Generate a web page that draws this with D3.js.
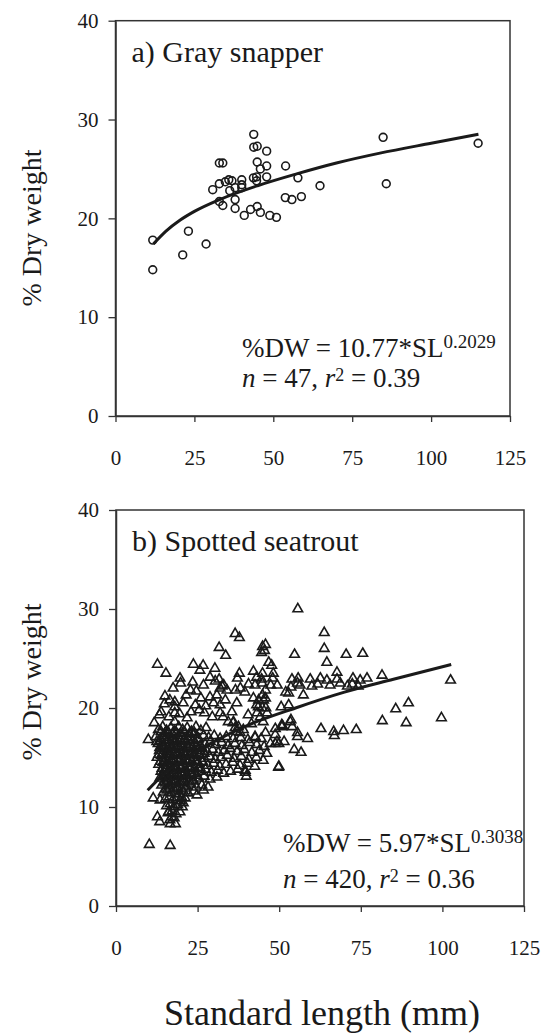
<!DOCTYPE html>
<html>
<head>
<meta charset="utf-8">
<script src="https://cdn.jsdelivr.net/npm/d3@7"></script>
<style>
  body { margin: 0; background: #fff; }
  svg { display: block; }
  svg text { font-family: "Liberation Serif", "DejaVu Serif", "Noto Serif", "Times New Roman", Times, serif; fill: #1a1a1a; }
</style>
</head>
<body>
<svg id="chart" width="541" height="1035"></svg>
<script>
var serif = "'Liberation Serif', 'DejaVu Serif', 'Noto Serif', 'Times New Roman', Times, serif";

// tick values shared by both panels
var xTicks = [0, 25, 50, 75, 100, 125];
var yTicks = [0, 10, 20, 30, 40];

// a) Gray snapper: [standard length (mm), % dry weight]
var snapperPoints = [
  [11.8, 17.8], [11.8, 14.8], [21.3, 16.3], [23.1, 18.7], [28.7, 17.4],
  [30.8, 22.9], [32.9, 23.5], [32.9, 25.6], [34.0, 25.6], [32.9, 21.7],
  [34.0, 21.3], [34.8, 23.7], [35.9, 23.9], [36.9, 23.8], [37.9, 23.1],
  [37.9, 21.9], [37.9, 21.0], [40.0, 23.9], [40.0, 23.4], [40.0, 23.1],
  [40.8, 20.3], [42.8, 20.9], [43.8, 28.5], [43.8, 27.2], [44.9, 27.3],
  [44.9, 25.7], [43.7, 24.1], [44.7, 24.2], [44.7, 23.8], [44.9, 21.2],
  [45.9, 25.0], [45.9, 20.6], [47.9, 26.8], [47.9, 25.3], [47.9, 24.2],
  [48.9, 20.3], [51.0, 20.1], [53.9, 25.3], [53.8, 22.1], [55.9, 21.9],
  [57.8, 24.1], [58.9, 22.2], [64.8, 23.3], [84.8, 28.2], [85.8, 23.5],
  [114.9, 27.6], [36.2, 22.8]
];
// fitted curve as drawn: %DW = 10.77*SL^0.2029
var snapperFitSL = [12, 16, 20.4, 25, 33, 45, 57.4, 70, 83.8, 100, 115];
var snapperFitDW = [17.4, 18.7, 19.8, 20.7, 21.9, 23.3, 24.5, 25.6, 26.6, 27.6, 28.5];

// b) Spotted seatrout: [standard length (mm), % dry weight]
var seatroutPoints = [
  // sparse upper scatter
  [12.7, 24.4], [15.3, 23.5], [23.7, 24.4], [25.7, 23.8], [26.7, 24.3], [30.3, 24.0],
  [31.6, 26.1], [33.6, 25.3], [36.5, 27.5], [37.8, 27.1], [37.8, 23.5], [42.1, 23.7],
  [44.9, 26.2], [45.5, 25.8], [44.6, 25.6], [45.8, 26.4], [46.8, 24.6], [47.7, 24.3],
  [44.9, 23.5], [48.2, 23.5], [55.7, 30.0], [54.7, 25.4], [63.8, 27.6], [63.8, 26.0],
  [64.6, 24.6], [70.5, 25.4], [75.6, 25.5], [67.7, 23.6], [81.5, 23.3], [102.5, 22.8],
  [19.6, 23.0], [28.8, 23.1], [31.6, 22.9], [37.2, 23.0], [43.1, 23.1], [44.6, 22.9],
  [48.0, 23.0], [53.9, 22.9], [55.8, 23.0], [59.5, 22.9], [62.6, 23.0], [64.6, 22.8],
  [67.7, 22.9], [72.6, 23.0], [74.8, 22.8], [76.9, 23.0],
  [32.5, 22.2], [36.6, 21.8], [38.1, 22.0], [40.6, 22.4], [42.6, 22.3], [44.8, 22.5],
  [45.8, 21.8], [47.4, 22.3], [49.4, 22.3], [52.0, 21.6], [53.6, 22.1], [55.6, 22.5],
  [56.4, 22.3], [57.4, 21.3], [52.9, 21.5], [60.0, 22.2], [61.8, 22.4], [65.6, 22.3],
  [68.7, 22.5], [70.9, 22.2], [72.4, 22.4], [74.2, 22.2],
  [42.1, 21.0], [43.7, 20.8], [44.9, 21.3], [45.8, 21.0], [45.2, 20.8], [44.8, 20.0],
  [43.2, 19.5], [44.2, 19.1], [45.1, 18.6], [46.3, 19.5], [43.6, 20.1], [52.9, 20.3],
  [50.6, 20.1], [45.9, 20.0], [43.1, 20.3],
  [31.9, 19.5], [32.8, 19.1], [34.4, 18.6], [35.9, 18.5], [36.5, 18.0], [37.1, 17.6],
  [38.0, 17.5], [42.6, 17.0], [45.8, 17.5], [48.8, 17.9], [51.0, 18.2], [53.4, 18.6],
  [54.0, 18.1], [55.6, 17.5], [55.6, 17.1], [58.7, 16.9], [50.8, 18.3], [53.6, 18.8],
  [48.8, 16.4], [49.9, 16.4], [51.5, 16.6], [54.6, 15.8], [56.7, 15.5], [49.9, 14.1],
  [39.9, 13.1], [39.6, 13.7], [49.8, 14.0], [50.8, 18.1], [48.8, 17.3], [49.3, 16.6],
  [62.8, 17.9], [66.7, 17.6], [66.9, 17.2], [69.7, 17.7], [73.6, 17.8],
  [81.6, 18.7], [85.7, 19.9], [89.6, 20.5], [88.9, 18.5], [99.7, 19.0],
  // left upper group
  [9.9, 16.8], [12.5, 16.6], [11.7, 18.5], [13.8, 19.6], [13.3, 19.3], [13.8, 17.6],
  [18.0, 20.6], [18.0, 20.1], [18.0, 19.5], [18.0, 18.6], [20.6, 20.5], [22.8, 21.8],
  [24.6, 21.7], [24.3, 20.3], [19.8, 22.5], [26.8, 22.3], [30.4, 22.7], [31.9, 22.0],
  [33.0, 22.3], [34.0, 21.8], [28.8, 21.1], [30.9, 21.3], [29.9, 20.5], [31.9, 20.3],
  [23.0, 19.6], [27.1, 19.5], [29.5, 19.1], [36.0, 18.6], [37.5, 18.1], [39.0, 17.8],
  [15.0, 21.2], [16.5, 20.8], [17.5, 22.0], [21.5, 21.3], [23.5, 22.6], [26.0, 21.0],
  [27.5, 20.2], [25.5, 19.8], [21.8, 19.0], [19.5, 19.4], [16.2, 19.1], [14.8, 20.4],
  [33.5, 20.8], [35.5, 19.6], [37.0, 20.5], [39.5, 21.6], [40.5, 19.3], [41.5, 18.4],
  // dense cluster, row by row
  [13.0, 17.8], [14.3, 18.1], [15.5, 17.7], [16.8, 18.0], [17.9, 17.6], [19.2, 18.1],
  [20.4, 17.8], [21.8, 18.0], [23.1, 17.6], [24.5, 18.1], [26.0, 17.7], [27.6, 18.0],
  [14.9, 17.4], [16.1, 17.5], [17.3, 17.4], [18.5, 17.5], [19.8, 17.4], [21.1, 17.5],
  [22.5, 17.4], [24.0, 17.5],
  [12.2, 17.1], [13.6, 16.9], [14.9, 17.2], [16.1, 17.0], [17.4, 17.3], [18.6, 16.9],
  [19.8, 17.2], [21.1, 16.9], [22.5, 17.1], [23.9, 17.3], [25.3, 16.9], [26.8, 17.2],
  [28.4, 17.0], [30.1, 17.2], [31.9, 16.9], [33.8, 17.1], [35.9, 16.9], [38.2, 17.0],
  [40.4, 16.8], [42.6, 17.1], [44.5, 16.9],
  [13.7, 16.7], [14.9, 16.8], [16.0, 16.7], [17.1, 16.8], [18.3, 16.7], [19.5, 16.8],
  [20.8, 16.7], [22.2, 16.8], [23.6, 16.7], [25.1, 16.8],
  [12.9, 16.4], [14.1, 16.2], [15.3, 16.5], [16.5, 16.3], [17.7, 16.6], [18.9, 16.2],
  [20.2, 16.4], [21.5, 16.6], [22.9, 16.3], [24.3, 16.5], [25.8, 16.2], [27.3, 16.4],
  [28.9, 16.6], [30.6, 16.3], [32.4, 16.5], [34.3, 16.2], [36.4, 16.4], [38.6, 16.2],
  [40.9, 16.5], [43.1, 16.3], [45.4, 16.1], [47.3, 16.4],
  [13.4, 16.0], [14.6, 16.1], [15.8, 16.0], [16.9, 16.1], [18.0, 16.0], [19.2, 16.1],
  [20.5, 16.0], [21.8, 16.1], [23.2, 16.0], [24.7, 16.1], [26.3, 16.0],
  [13.3, 15.7], [14.5, 15.9], [15.7, 15.6], [16.9, 15.8], [18.1, 15.5], [19.4, 15.8],
  [20.7, 15.6], [22.0, 15.9], [23.4, 15.5], [24.8, 15.7], [26.3, 15.9], [27.9, 15.6],
  [29.6, 15.8], [31.3, 15.5], [33.1, 15.7], [35.0, 15.9], [37.1, 15.6], [39.3, 15.8],
  [41.6, 15.5], [43.9, 15.7], [46.2, 15.4],
  [13.1, 15.3], [14.3, 15.4], [15.4, 15.3], [16.5, 15.4], [17.6, 15.3], [18.7, 15.4],
  [19.9, 15.3], [21.2, 15.4], [22.5, 15.3], [23.9, 15.4], [25.4, 15.3], [27.0, 15.4],
  [12.6, 15.0], [13.9, 15.2], [15.1, 14.9], [16.3, 15.1], [17.5, 14.8], [18.8, 15.2],
  [20.0, 14.9], [21.3, 15.1], [22.7, 14.8], [24.1, 15.0], [25.6, 15.2], [27.1, 14.9],
  [28.7, 15.1], [30.4, 14.8], [32.2, 15.0], [34.1, 15.2], [36.2, 14.9], [38.4, 15.1],
  [40.7, 14.8], [43.0, 15.0], [45.1, 14.7],
  [13.6, 14.6], [14.8, 14.7], [15.9, 14.6], [17.0, 14.7], [18.1, 14.6], [19.3, 14.7],
  [20.6, 14.6], [21.9, 14.7], [23.3, 14.6], [24.8, 14.7], [26.5, 14.6],
  [13.1, 14.3], [14.4, 14.5], [15.6, 14.2], [16.8, 14.4], [18.0, 14.1], [19.2, 14.5],
  [20.5, 14.2], [21.9, 14.4], [23.3, 14.1], [24.8, 14.3], [26.4, 14.5], [28.1, 14.2],
  [29.9, 14.4], [31.8, 14.1], [33.7, 14.3], [35.8, 14.5], [38.0, 14.2], [40.3, 14.4],
  [42.5, 14.1],
  [14.1, 13.9], [15.3, 14.0], [16.4, 13.9], [17.5, 14.0], [18.7, 13.9], [19.9, 14.0],
  [21.2, 13.9], [22.6, 14.0], [24.1, 13.9], [25.7, 14.0],
  [13.8, 13.6], [15.0, 13.8], [16.2, 13.5], [17.4, 13.7], [18.6, 13.4], [19.9, 13.8],
  [21.2, 13.5], [22.6, 13.7], [24.1, 13.4], [25.7, 13.6], [27.4, 13.8], [29.2, 13.5],
  [31.1, 13.7], [33.0, 13.4], [35.1, 13.6], [37.3, 13.8], [39.6, 13.5],
  [14.4, 13.2], [15.5, 13.3], [16.6, 13.2], [17.7, 13.3], [18.9, 13.2], [20.2, 13.3],
  [21.6, 13.2], [23.1, 13.3], [24.7, 13.2],
  [13.4, 12.9], [14.6, 13.1], [15.8, 12.8], [17.0, 13.0], [18.2, 12.7], [19.5, 13.1],
  [20.8, 12.8], [22.2, 13.0], [23.7, 12.7], [25.3, 12.9], [27.0, 13.1], [28.8, 12.8],
  [30.9, 13.0],
  [14.8, 12.5], [15.9, 12.6], [17.0, 12.5], [18.2, 12.6], [19.4, 12.5], [20.7, 12.6],
  [22.1, 12.5], [23.6, 12.6],
  [14.0, 12.2], [15.2, 12.4], [16.4, 12.1], [17.6, 12.3], [18.8, 12.0], [20.1, 12.4],
  [21.5, 12.1], [23.0, 12.3], [24.6, 12.0], [26.3, 12.2], [28.2, 12.0],
  [15.3, 11.8], [16.5, 11.9], [17.6, 11.8], [18.8, 11.9], [20.0, 11.8], [21.3, 11.9],
  [14.5, 11.5], [15.7, 11.7], [16.9, 11.4], [18.1, 11.6], [19.3, 11.3], [20.6, 11.6],
  [22.1, 11.4], [23.8, 11.6],
  [15.1, 10.8], [16.3, 11.0], [17.4, 10.7], [18.6, 10.9], [19.8, 10.6], [21.2, 10.9],
  [15.5, 10.1], [16.6, 10.3], [17.7, 10.0], [18.9, 10.2], [20.3, 10.0],
  [16.0, 9.4], [17.2, 9.6], [18.4, 9.3], [19.6, 9.5], [16.5, 8.7], [17.8, 8.9],
  [12.7, 9.0], [16.1, 9.5], [17.1, 9.0], [11.4, 10.9], [13.5, 10.7], [20.6, 10.4],
  [20.1, 11.0], [24.8, 11.2], [26.8, 11.7], [13.4, 8.5], [16.6, 8.3], [18.2, 8.3],
  [10.2, 6.2], [16.6, 6.1]
];
// fitted curve as drawn: %DW = 5.97*SL^0.3038
var seatroutFitSL = [9.7, 15, 20, 30, 40, 55, 70, 85, 102.7];
var seatroutFitDW = [11.7, 13.4, 14.6, 16.6, 18.2, 20.0, 21.6, 22.9, 24.4];

var svg = d3.select("#chart");

var panels = [
  {
    left: 115.5, right: 510, top: 20.7, bottom: 416,
    title: "a) Gray snapper", points: snapperPoints, marker: "circle",
    fitSL: snapperFitSL, fitDW: snapperFitDW,
    eq: ["10.77", "0.2029"], n: "47", r2: "0.39",
    eqX: 242, eqY: 357, eqGap: 30, labelY: 228
  },
  {
    left: 116, right: 524, top: 510, bottom: 906,
    title: "b) Spotted seatrout", points: seatroutPoints, marker: "triangle",
    fitSL: seatroutFitSL, fitDW: seatroutFitDW,
    eq: ["5.97", "0.3038"], n: "420", r2: "0.36",
    eqX: 283, eqY: 852, eqGap: 36, labelY: 682
  }
];

panels.forEach(function (p) {
  var x = d3.scaleLinear().domain([0, 125]).range([p.left, p.right]);
  var y = d3.scaleLinear().domain([0, 40]).range([p.bottom, p.top]);
  var g = svg.append("g");

  // frame
  g.append("rect")
    .attr("x", p.left).attr("y", p.top)
    .attr("width", p.right - p.left).attr("height", p.bottom - p.top)
    .attr("fill", "none").attr("stroke", "#333").attr("stroke-width", 1.5);

  var yAxis = g.append("g")
    .attr("transform", "translate(" + p.left + ",0)")
    .call(d3.axisLeft(y).tickValues(yTicks).tickSize(7).tickSizeOuter(0).tickPadding(10));
  var xAxis = g.append("g")
    .attr("transform", "translate(0," + p.bottom + ")")
    .call(d3.axisBottom(x).tickValues(xTicks).tickSize(6).tickSizeOuter(0).tickPadding(28));

  [yAxis, xAxis].forEach(function (ax) {
    ax.attr("font-family", serif);
    ax.select(".domain").attr("stroke", "#333").attr("stroke-width", 1.5);
    ax.selectAll(".tick line").attr("stroke", "#333").attr("stroke-width", 1.3);
    ax.selectAll(".tick text")
      .attr("fill", "#1a1a1a")
      .style("font-family", serif)
      .style("font-size", "21px");
  });

  // points
  if (p.marker === "circle") {
    g.selectAll("circle.pt")
      .data(p.points)
      .enter()
      .append("circle")
      .attr("class", "pt")
      .attr("cx", function (d) { return x(d[0]); })
      .attr("cy", function (d) { return y(d[1]); })
      .attr("r", 3.9)
      .attr("fill", "none")
      .attr("stroke", "#1a1a1a")
      .attr("stroke-width", 1.6);
  } else {
    var tri = d3.symbol().type(d3.symbolTriangle).size(40);
    g.selectAll("path.pt")
      .data(p.points)
      .enter()
      .append("path")
      .attr("class", "pt")
      .attr("d", tri)
      .attr("transform", function (d) {
        return "translate(" + x(d[0]) + "," + y(d[1]) + ")";
      })
      .attr("fill", "none")
      .attr("stroke", "#1a1a1a")
      .attr("stroke-width", 1.6);
  }

  // fitted line
  var line = d3.line()
    .x(function (d, i) { return x(p.fitSL[i]); })
    .y(function (d) { return y(d); })
    .curve(d3.curveMonotoneX);
  g.append("path")
    .attr("d", line(p.fitDW))
    .attr("fill", "none")
    .attr("stroke", "#1a1a1a")
    .attr("stroke-width", 3);

  // panel title
  g.append("text")
    .attr("x", p.left + 16).attr("y", p.top + 41)
    .style("font-family", serif)
    .style("font-size", "30px")
    .text(p.title);

  // equation
  var eq = g.append("text")
    .attr("x", p.eqX).attr("y", p.eqY)
    .style("font-family", serif)
    .style("font-size", "27px");
  eq.append("tspan").text("%DW = " + p.eq[0] + "*SL");
  eq.append("tspan").attr("dy", -9).style("font-size", "19px").text(p.eq[1]);

  var st = g.append("text")
    .attr("x", p.eqX).attr("y", p.eqY + p.eqGap)
    .style("font-family", serif)
    .style("font-size", "27px");
  st.append("tspan").style("font-style", "italic").text("n");
  st.append("tspan").text(" = " + p.n + ", ");
  st.append("tspan").style("font-style", "italic").text("r");
  st.append("tspan").attr("dy", -6).style("font-size", "18px").text("2");
  st.append("tspan").attr("dy", 6).text(" = " + p.r2);

  // y axis title
  g.append("text")
    .attr("transform", "translate(41," + p.labelY + ") rotate(-90)")
    .attr("text-anchor", "middle")
    .style("font-family", serif)
    .style("font-size", "28px")
    .text("% Dry weight");
});

svg.append("text")
  .attr("x", 322).attr("y", 1025)
  .attr("text-anchor", "middle")
  .style("font-family", serif)
  .style("font-size", "36px")
  .text("Standard length (mm)");
</script>
</body>
</html>
